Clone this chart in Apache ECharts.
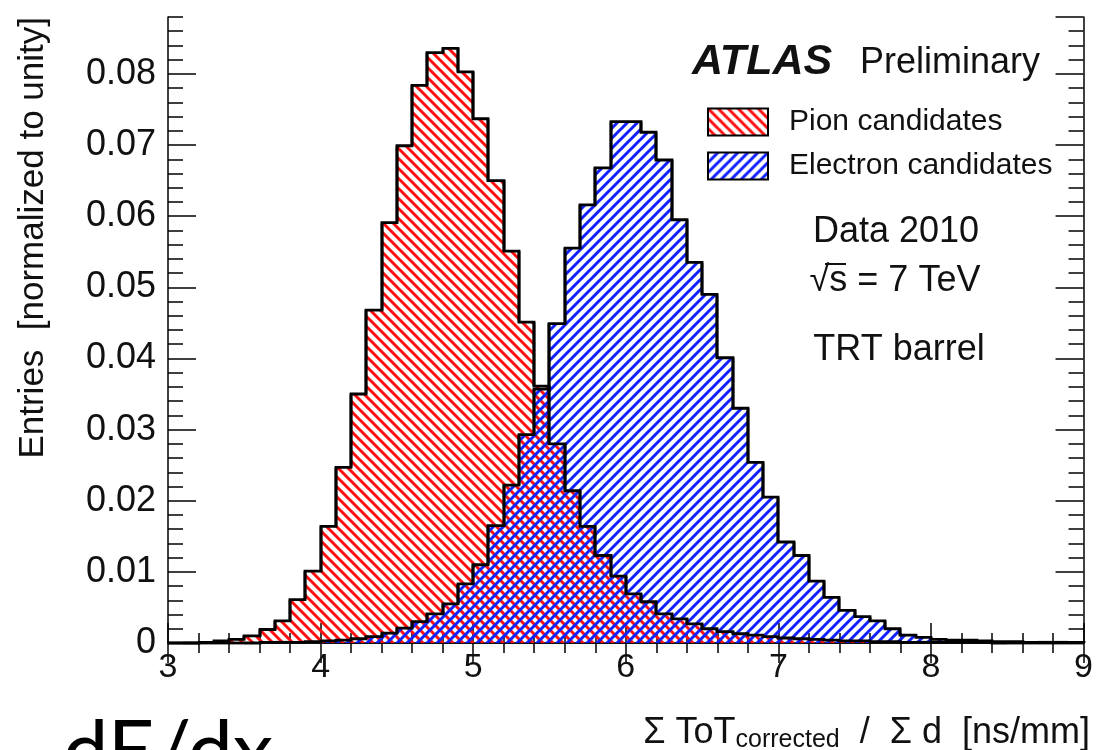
<!DOCTYPE html>
<html>
<head>
<meta charset="utf-8">
<title>dE/dx – TRT barrel</title>
<script src="https://cdn.jsdelivr.net/npm/echarts@6/dist/echarts.min.js"></script>
<style>
  html, body { margin: 0; padding: 0; background: #fff; }
  #chart { width: 1096px; height: 750px; }
</style>
</head>
<body>
<div id="chart"></div>
<script>
// Histogram binning: 60 bins of width 0.1 from 3 to 9 (ns/mm)
const binStart = 3.0;
const binCount = 60;

// Normalised entries per bin, pion candidates
const pionCandidates = [
  0.0000, 0.0000, 0.0001, 0.0003, 0.0005, 0.0010, 0.0019, 0.0031, 0.0061, 0.0101,
  0.0164, 0.0247, 0.0350, 0.0468, 0.0591, 0.0699, 0.0784, 0.0830, 0.0836, 0.0803,
  0.0737, 0.0650, 0.0551, 0.0451, 0.0361, 0.0280, 0.0214, 0.0164, 0.0123, 0.0094,
  0.0069, 0.0058, 0.0041, 0.0034, 0.0027, 0.0020, 0.0016, 0.0013, 0.0011, 0.0009,
  0.0007, 0.0006, 0.0005, 0.0004, 0.0003, 0.0003, 0.0002, 0.0002, 0.0001, 0.0001,
  0.0001, 0.0001, 0.0001, 0.0001, 0.0000, 0.0000, 0.0000, 0.0000, 0.0000, 0.0000
];

// Normalised entries per bin, electron candidates
const electronCandidates = [
  0.0000, 0.0000, 0.0000, 0.0000, 0.0000, 0.0000, 0.0001, 0.0001, 0.0001, 0.0002,
  0.0003, 0.0004, 0.0006, 0.0009, 0.0014, 0.0021, 0.0030, 0.0041, 0.0055, 0.0083,
  0.0110, 0.0165, 0.0222, 0.0293, 0.0357, 0.0449, 0.0555, 0.0616, 0.0668, 0.0733,
  0.0733, 0.0718, 0.0679, 0.0595, 0.0535, 0.0490, 0.0401, 0.0330, 0.0254, 0.0205,
  0.0142, 0.0123, 0.0087, 0.0064, 0.0046, 0.0037, 0.0031, 0.0020, 0.0011, 0.0008,
  0.0005, 0.0004, 0.0004, 0.0003, 0.0002, 0.0002, 0.0001, 0.0001, 0.0001, 0.0001
];

// Axis ranges and tick steps
const xRange = [3, 9];
const yRange = [0, 0.088];
const yMajorStep = 0.01;
const yMinorStep = 0.002;

const FONT = '"Liberation Sans", Arial, Helvetica, sans-serif';
const INK = '#111';

// Diagonal hatch tiles ("\\\\" for pions, "////" for electrons)
function makeHatch(color, rising) {
  const s = 10;
  const c = document.createElement('canvas');
  c.width = s; c.height = s;
  const g = c.getContext('2d');
  g.strokeStyle = color;
  g.lineWidth = 3;
  g.beginPath();
  for (let k = -1; k <= 1; k++) {
    if (rising) {
      g.moveTo(k * s - 1, s + 1); g.lineTo(k * s + s + 1, -1);
    } else {
      g.moveTo(k * s - 1, -1); g.lineTo(k * s + s + 1, s + 1);
    }
  }
  g.stroke();
  return c;
}
const pionFill = { image: makeHatch('#ff1010', false), repeat: 'repeat' };
const electronFill = { image: makeHatch('#1020ff', true), repeat: 'repeat' };

// [low edge, high edge, content, previous content, next content]
function toBins(values) {
  return values.map((v, i) => [
    (binStart * 10 + i) / 10,
    (binStart * 10 + i + 1) / 10,
    v,
    i > 0 ? values[i - 1] : 0,
    i < values.length - 1 ? values[i + 1] : 0
  ]);
}

// Each bin: hatched column plus its piece of the step outline
function histogramRenderer(fill) {
  return function (params, api) {
    const lo = api.value(0), hi = api.value(1), v = api.value(2);
    const prev = api.value(3), next = api.value(4);
    const top = api.coord([lo, v])[1];
    const base = api.coord([lo, 0])[1];
    const x0 = Math.round(api.coord([lo, 0])[0]);
    const x1 = Math.round(api.coord([hi, 0])[0]);
    const children = [];
    if (v > 0) {
      children.push({
        type: 'rect',
        shape: { x: x0, y: top, width: x1 - x0, height: base - top },
        style: { fill: fill },
        z2: 1
      });
    }
    children.push({
      type: 'polyline',
      shape: { points: [
        [x0, api.coord([lo, prev])[1]], [x0, top], [x1, top], [x1, api.coord([hi, next])[1]]
      ] },
      style: { stroke: '#000', lineWidth: 2.8, fill: null, lineJoin: 'miter' },
      z2: 10
    });
    return { type: 'group', children: children };
  };
}

function frameX(position, showLabels) {
  return {
    type: 'value', position: position, min: xRange[0], max: xRange[1], interval: 1,
    axisLine: { show: true, lineStyle: { color: '#000', width: 1.5 } },
    axisTick: { show: true, inside: true, length: 20, lineStyle: { color: '#000', width: 1.5 } },
    minorTick: { show: true, splitNumber: 5, length: 10, lineStyle: { color: '#000', width: 1.5 } },
    axisLabel: { show: showLabels, fontFamily: FONT, fontSize: 34, color: INK, margin: 8 },
    splitLine: { show: false }, minorSplitLine: { show: false }
  };
}

function frameY(position, step, tickLen, showLine, showLabels) {
  return {
    type: 'value', position: position, min: yRange[0], max: yRange[1], interval: step,
    axisLine: { show: showLine, lineStyle: { color: '#000', width: 1.5 } },
    axisTick: { show: true, inside: true, length: tickLen, lineStyle: { color: '#000', width: 1.5 } },
    axisLabel: {
      show: showLabels, fontFamily: FONT, fontSize: 36, color: INK, margin: 12,
      showMaxLabel: false,
      formatter: v => (v === 0 ? '0' : v.toFixed(2))
    },
    splitLine: { show: false }
  };
}

const chart = echarts.init(document.getElementById('chart'), null, { renderer: 'canvas' });

chart.setOption({
  animation: false,
  backgroundColor: '#fff',
  grid: { left: 168, right: 7, top: 17, bottom: 107, containLabel: false },
  xAxis: [frameX('bottom', true), frameX('top', false)],
  yAxis: [
    frameY('left', yMajorStep, 28, true, true),
    frameY('left', yMinorStep, 15, false, false),
    frameY('right', yMajorStep, 28, true, false),
    frameY('right', yMinorStep, 15, false, false)
  ],
  legend: {
    orient: 'vertical', left: 707, top: 107, padding: 0,
    itemWidth: 60, itemHeight: 27, itemGap: 14,
    icon: 'rect', selectedMode: false,
    textStyle: { fontFamily: FONT, fontSize: 30, color: INK, padding: [0, 0, 0, 16] },
    data: [
      { name: 'Pion candidates', itemStyle: { color: pionFill, borderColor: '#000', borderWidth: 2 } },
      { name: 'Electron candidates', itemStyle: { color: electronFill, borderColor: '#000', borderWidth: 2 } }
    ]
  },
  series: [
    {
      name: 'Pion candidates', type: 'custom',
      xAxisIndex: 0, yAxisIndex: 0,
      data: toBins(pionCandidates),
      encode: { x: [0, 1], y: 2 },
      renderItem: histogramRenderer(pionFill)
    },
    {
      name: 'Electron candidates', type: 'custom',
      xAxisIndex: 0, yAxisIndex: 0,
      data: toBins(electronCandidates),
      encode: { x: [0, 1], y: 2 },
      renderItem: histogramRenderer(electronFill)
    }
  ],
  graphic: [
    {
      type: 'text', x: 33, y: 17, rotation: Math.PI / 2,
      style: { text: 'Entries  [normalized to unity]', fontFamily: FONT, fontSize: 35, fill: INK, align: 'right', verticalAlign: 'middle' }
    },
    {
      type: 'text', x: 692, y: 62,
      style: { text: 'ATLAS', fontFamily: FONT, fontSize: 43, fontWeight: 'bold', fontStyle: 'italic', fill: INK, align: 'left', verticalAlign: 'middle' }
    },
    {
      type: 'text', x: 860, y: 63,
      style: { text: 'Preliminary', fontFamily: FONT, fontSize: 36, fill: INK, align: 'left', verticalAlign: 'middle' }
    },
    {
      type: 'text', x: 896, y: 232,
      style: { text: 'Data 2010', fontFamily: FONT, fontSize: 36, fill: INK, align: 'center', verticalAlign: 'middle' }
    },
    {
      type: 'text', x: 895, y: 281,
      style: { text: '√s = 7 TeV', fontFamily: FONT, fontSize: 36, fill: INK, align: 'center', verticalAlign: 'middle' }
    },
    {
      type: 'line', shape: { x1: 825, y1: 264, x2: 846, y2: 264 },
      style: { stroke: INK, lineWidth: 2 }
    },
    {
      type: 'text', x: 899, y: 350,
      style: { text: 'TRT barrel', fontFamily: FONT, fontSize: 36, fill: INK, align: 'center', verticalAlign: 'middle' }
    },
    {
      type: 'text', x: 1090, y: 713,
      style: {
        text: '{m|Σ ToT}{s|corrected}{m|  /  Σ d  [ns/mm]}',
        align: 'right', verticalAlign: 'top', fill: INK,
        rich: {
          m: { fontFamily: FONT, fontSize: 36, lineHeight: 40, verticalAlign: 'middle', fill: INK },
          s: { fontFamily: FONT, fontSize: 25, lineHeight: 25, verticalAlign: 'bottom', fill: INK }
        }
      }
    },
    {
      type: 'text', x: 63, y: 753,
      style: { text: 'dE/dx', fontFamily: 'Lato, "Open Sans", sans-serif', fontSize: 81, fill: '#000', align: 'left', verticalAlign: 'middle' }
    }
  ]
});
</script>
</body>
</html>
